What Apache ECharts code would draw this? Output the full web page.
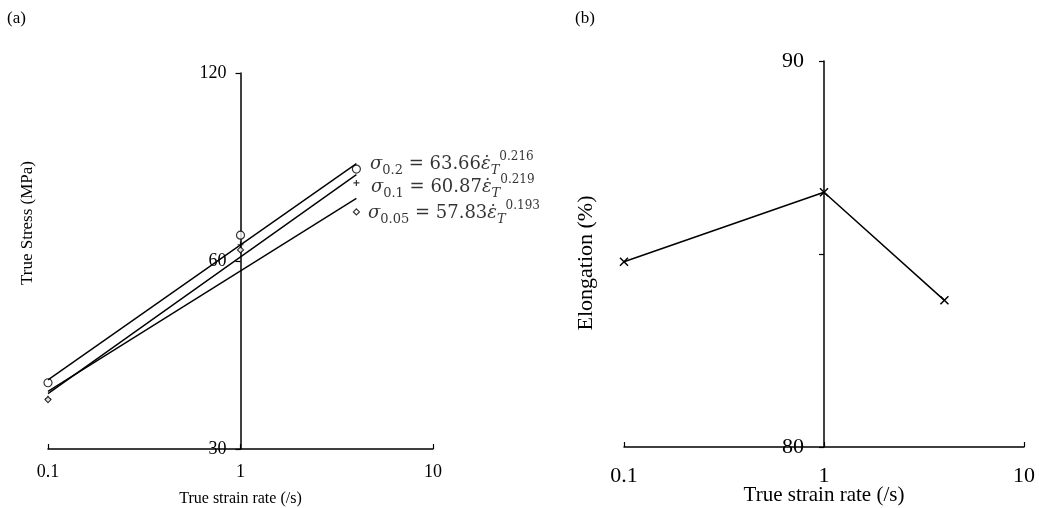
<!DOCTYPE html>
<html>
<head>
<meta charset="utf-8">
<script src="https://cdn.jsdelivr.net/npm/echarts@6/dist/echarts.min.js"></script>
<style>
  html, body { margin: 0; padding: 0; background: #fff; }
  #chart { width: 1039px; height: 508px; }
</style>
</head>
<body>
<div id="chart"></div>
<script>
// strain rates tested (/s)
const strainRates = [0.1, 1, 4]
// (a) measured true stress (MPa) at 0.2 / 0.1 / 0.05 strain
const stress02 = [38.3, 66.0, 84.2]
const stress01 = [36.1, 63.7, 80.0]
const stress005 = [36.0, 62.5, 71.9]
// (a) power-law trendlines, end points
const fitRates = [0.1, 4]
const fit02 = [38.7, 85.9]
const fit01 = [36.8, 82.5]
const fit005 = [37.1, 75.6]
const stressTicks = [30, 60, 120]
// trendline equations: [strain, coefficient, exponent]
const fitLabels = [
  ['0.2', '63.66', '0.216'],
  ['0.1', '60.87', '0.219'],
  ['0.05', '57.83', '0.193']
]
// (b) elongation (%)
const elongation = [84.8, 86.6, 83.8]
const elongationTicks = [80, 85, 90]

const serif = 'Liberation Serif'
const black = '#000'

const pairs = (xs, ys) => xs.map((x, i) => [x, ys[i]])

const eqRich = {
  m: { fontFamily: 'DejaVu Serif', fontSize: 18, color: black, lineHeight: 26, verticalAlign: 'middle' },
  i: { fontFamily: 'DejaVu Serif', fontStyle: 'italic', fontSize: 18, color: black, lineHeight: 26, verticalAlign: 'middle' },
  sub: { fontFamily: 'DejaVu Serif', fontSize: 13, color: black, lineHeight: 13, verticalAlign: 'bottom' },
  subi: { fontFamily: 'DejaVu Serif', fontStyle: 'italic', fontSize: 13, color: black, lineHeight: 13, verticalAlign: 'bottom' },
  sup: { fontFamily: 'DejaVu Serif', fontSize: 12, color: black, lineHeight: 14, verticalAlign: 'top' }
}
const eqText = (l) => '{i|σ}{sub|' + l[0] + '}{m| = ' + l[1] + '}{i|ε\u0307}{subi|T}{sup|' + l[2] + '}'

// data points, the last one carries the equation label
function measured(ys, idx, offset) {
  return pairs(strainRates, ys).map((p, i) => {
    if (i !== strainRates.length - 1) return p
    return {
      value: p,
      label: {
        show: true,
        position: 'right',
        distance: 6,
        offset: offset,
        formatter: eqText(fitLabels[idx]),
        rich: eqRich
      }
    }
  })
}

const axisLineStyle = { lineStyle: { color: black, width: 1.5 } }
const tickStyle = { lineStyle: { color: black, width: 1.2 } }

const chart = echarts.init(document.getElementById('chart'))
chart.setOption({
  animation: false,
  backgroundColor: '#fff',
  grid: [
    { left: 48, top: 73, width: 385, height: 376, outerBoundsMode: 'none', containLabel: false },
    { left: 624, top: 61, width: 400, height: 386, outerBoundsMode: 'none', containLabel: false }
  ],
  xAxis: [{
    gridIndex: 0,
    type: 'log',
    logBase: 10,
    min: 0.1,
    max: 10,
    axisLine: axisLineStyle,
    axisTick: { inside: true, length: 5, lineStyle: tickStyle.lineStyle },
    axisLabel: { color: black, fontFamily: serif, fontSize: 18, margin: 14 },
    splitLine: { show: false },
    name: 'True strain rate (/s)',
    nameLocation: 'middle',
    nameGap: 42,
    nameMoveOverlap: false,
    nameTextStyle: { color: black, fontFamily: serif, fontSize: 16 }
  }, {
    gridIndex: 1,
    type: 'log',
    logBase: 10,
    min: 0.1,
    max: 10,
    axisLine: axisLineStyle,
    axisTick: { inside: true, length: 5, lineStyle: tickStyle.lineStyle },
    axisLabel: { color: black, fontFamily: serif, fontSize: 22, margin: 18 },
    splitLine: { show: false },
    name: 'True strain rate (/s)',
    nameLocation: 'middle',
    nameGap: 38,
    nameMoveOverlap: false,
    nameTextStyle: { color: black, fontFamily: serif, fontSize: 21 }
  }],
  yAxis: [{
    gridIndex: 0,
    type: 'log',
    logBase: 2,
    min: 30,
    max: 120,
    offset: -192.5, // axis crosses at strain rate 1
    axisLine: axisLineStyle,
    axisTick: { length: 5, customValues: stressTicks, lineStyle: tickStyle.lineStyle },
    axisLabel: { color: black, fontFamily: serif, fontSize: 18, margin: 14, customValues: stressTicks },
    splitLine: { show: false }
  }, {
    gridIndex: 1,
    type: 'value',
    min: 80,
    max: 90,
    interval: 5,
    offset: -200,
    axisLine: axisLineStyle,
    axisTick: { length: 5, lineStyle: tickStyle.lineStyle },
    axisLabel: {
      color: black, fontFamily: serif, fontSize: 22, margin: 20,
      formatter: v => (v === elongationTicks[1] ? '' : v)
    },
    splitLine: { show: false }
  }],
  graphic: [
    { type: 'text', left: 7, top: 10, style: { text: '(a)', font: '17px "Liberation Serif"', fill: black } },
    { type: 'text', left: 575, top: 10, style: { text: '(b)', font: '17px "Liberation Serif"', fill: black } },
    {
      type: 'text', x: 28, y: 223, rotation: Math.PI / 2,
      style: { text: 'True Stress (MPa)', font: '17px "Liberation Serif"', fill: black, align: 'center', verticalAlign: 'middle' }
    },
    {
      type: 'text', x: 586, y: 263, rotation: Math.PI / 2,
      style: { text: 'Elongation (%)', font: '22px "Liberation Serif"', fill: black, align: 'center', verticalAlign: 'middle' }
    }
  ],
  series: [
    // trendlines
    { type: 'line', xAxisIndex: 0, yAxisIndex: 0, data: pairs(fitRates, fit02), showSymbol: false, lineStyle: { color: black, width: 1.4 } },
    { type: 'line', xAxisIndex: 0, yAxisIndex: 0, data: pairs(fitRates, fit01), showSymbol: false, lineStyle: { color: black, width: 1.4 } },
    { type: 'line', xAxisIndex: 0, yAxisIndex: 0, data: pairs(fitRates, fit005), showSymbol: false, lineStyle: { color: black, width: 1.4 } },
    // measured points
    {
      name: 'σ0.2', type: 'scatter', xAxisIndex: 0, yAxisIndex: 0,
      data: measured(stress02, 0, [3, -5]),
      symbol: 'circle', symbolSize: 8,
      itemStyle: { color: '#fff', borderColor: black, borderWidth: 1.2 }
    },
    {
      name: 'σ0.1', type: 'scatter', xAxisIndex: 0, yAxisIndex: 0,
      data: measured(stress01, 1, [3, 4]),
      symbol: 'path://M5,0L5,10M0,5L10,5', symbolSize: 6,
      itemStyle: { color: 'none', borderColor: black, borderWidth: 1.2 }
    },
    {
      name: 'σ0.05', type: 'scatter', xAxisIndex: 0, yAxisIndex: 0,
      data: measured(stress005, 2, [2, 1]),
      symbol: 'diamond', symbolSize: 6,
      itemStyle: { color: '#fff', borderColor: black, borderWidth: 1.2 }
    },
    // (b)
    {
      type: 'line', xAxisIndex: 1, yAxisIndex: 1,
      data: pairs(strainRates, elongation),
      symbol: 'path://M0,0L10,10M10,0L0,10', symbolSize: 8,
      itemStyle: { color: 'none', borderColor: black, borderWidth: 1.5 },
      lineStyle: { color: black, width: 1.5 }
    }
  ]
})
</script>
</body>
</html>
